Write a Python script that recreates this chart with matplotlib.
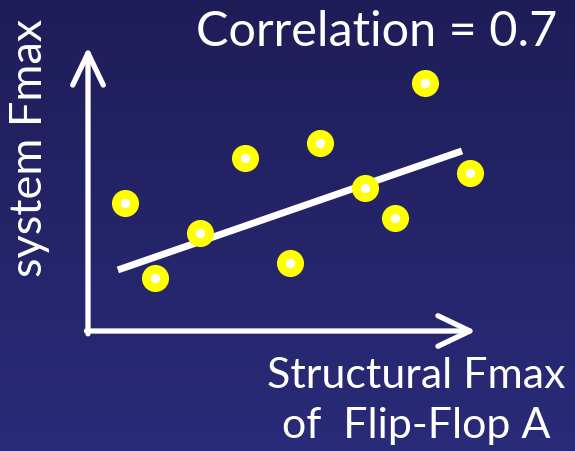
import numpy as np
import matplotlib
matplotlib.use("Agg")
import matplotlib.pyplot as plt
from matplotlib.colors import LinearSegmentedColormap

# data (arbitrary units, axis box = 0..10 both ways)
flop_fmax = [0.95, 1.73, 2.89, 4.05, 5.21, 5.98, 7.14, 7.91, 8.69, 9.85]
system_fmax = [4.51, 1.87, 3.45, 6.09, 2.39, 6.62, 5.04, 3.98, 8.73, 5.56]
trend_x = [0.77, 9.64]
trend_y = [2.15, 6.34]
corr_label = "Correlation = 0.7"
x_label = "Structural Fmax\nof  Flip-Flop A"
y_label = "system Fmax"

W, H = 575, 452
fig = plt.figure(figsize=(W / 100, H / 100), dpi=100)
plt.rcParams['font.family'] = ['Lato', 'DejaVu Sans']

# slide background: dark blue vertical gradient
bg = fig.add_axes([0, 0, 1, 1], zorder=0)
cmap = LinearSegmentedColormap.from_list("slide", ["#1f1d58", "#2a2b79"])
bg.imshow(np.linspace(0, 1, 256).reshape(-1, 1), aspect='auto', cmap=cmap,
          extent=[0, 1, 0, 1])
bg.set_axis_off()

ax = fig.add_axes([88 / W, 1 - 332 / H, 388 / W, 284 / H], zorder=1)
ax.set_xlim(0, 10)
ax.set_ylim(0, 10)
ax.patch.set_visible(False)
for s in ax.spines.values():
    s.set_visible(False)
ax.set_xticks([])
ax.set_yticks([])

# hand-drawn style axes with open arrow heads
arrow_kw = dict(arrowstyle='->,head_length=2.3,head_width=1.1', color='white',
                lw=3.8, mutation_scale=10, capstyle='round', joinstyle='round',
                shrinkA=0, shrinkB=0)
ax.annotate('', xy=(0, 1), xytext=(0, -0.01), xycoords='axes fraction',
            arrowprops=arrow_kw, annotation_clip=False)
ax.annotate('', xy=(1, 0), xytext=(-0.004, 0), xycoords='axes fraction',
            arrowprops=arrow_kw, annotation_clip=False)

# trend line
ax.plot(trend_x, trend_y, color='white', lw=5, solid_capstyle='butt', zorder=2)

# yellow dots with a white centre
ax.scatter(flop_fmax, system_fmax, s=380, color='#ffff00', zorder=3,
           linewidths=0, clip_on=False)
ax.scatter(flop_fmax, system_fmax, s=45, color='white', zorder=4,
           linewidths=0, clip_on=False)

fig.text(377 / W, 1 - 32 / H, corr_label, color='white', fontsize=35,
         ha='center', va='center')
fig.text(416 / W, 1 - 401 / H, x_label, color='white', fontsize=31,
         ha='center', va='center', linespacing=1.38)
fig.text(30 / W, 1 - 148 / H, y_label, color='white', fontsize=32.5,
         ha='center', va='center', rotation=90)

fig.savefig('out.png', dpi=100)
